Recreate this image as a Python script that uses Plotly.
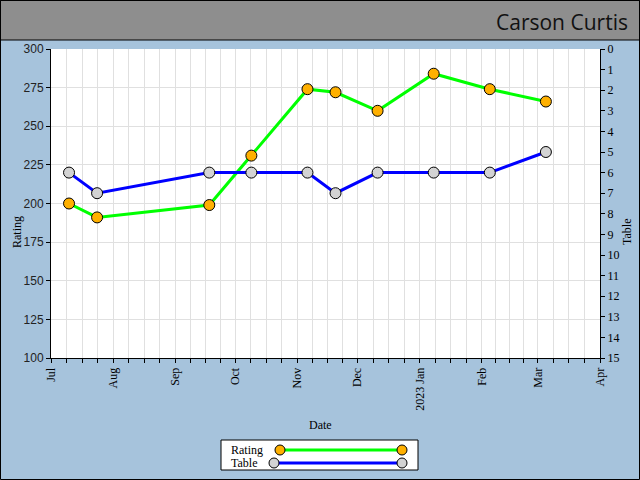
import pandas as pd
import plotly.graph_objects as go

# Data
dates = ["2022-07-10", "2022-07-24", "2022-09-18", "2022-10-09", "2022-11-06",
         "2022-11-20", "2022-12-11", "2023-01-08", "2023-02-05", "2023-03-05"]
rating = [200, 191, 199, 231, 274, 272, 260, 284, 274, 266]
table = [6, 7, 6, 6, 6, 7, 6, 6, 6, 5]

month_ticks = ["2022-07-01", "2022-08-01", "2022-09-01", "2022-10-01", "2022-11-01",
               "2022-12-01", "2023-01-01", "2023-02-01", "2023-03-01", "2023-04-01"]
month_labels = ["Jul", "Aug", "Sep", "Oct", "Nov", "Dec", "2023 Jan", "Feb", "Mar", "Apr"]

# Colours
BG = "#a6c3dc"
GREEN = "#00ff00"
BLUE = "#0000ff"
ORANGE = "#ffb000"
GREY_MARK = "#d3d3d3"
GRID = "#e0e0e0"
SERIF = "Liberation Serif"
SANS = "Liberation Sans"

# Layout geometry (pixels)
W, H = 640, 480
L, R, T, B = 51, 40, 49, 122
PW, PH = W - L - R, H - T - B


def px(x):
    return (x - L) / PW


def py(y):
    return (H - B - y) / PH


# minor ticks: quarter points of each month
minor_vals = []
starts = pd.to_datetime(month_ticks)
for a, b in zip(starts[:-1], starts[1:]):
    for f in (0.25, 0.5, 0.75):
        minor_vals.append(a + (b - a) * f)

fig = go.Figure()
fig.add_trace(go.Scatter(
    x=dates, y=rating, name="Rating", mode="lines+markers",
    line=dict(color=GREEN, width=3),
    marker=dict(color=ORANGE, size=11, line=dict(color="black", width=1)),
    yaxis="y"))
fig.add_trace(go.Scatter(
    x=dates, y=table, name="Table", mode="lines+markers",
    line=dict(color=BLUE, width=3),
    marker=dict(color=GREY_MARK, size=11, line=dict(color="black", width=1)),
    yaxis="y2"))

fig.update_layout(
    width=W, height=H,
    margin=dict(l=L, r=R, t=T, b=B),
    paper_bgcolor=BG, plot_bgcolor="white",
    showlegend=False,
    font=dict(family=SERIF, size=12, color="black"),
    xaxis=dict(
        type="date", range=["2022-07-01", "2023-04-01"],
        tickmode="array", tickvals=month_ticks, ticktext=month_labels,
        tickangle=-90, ticks="outside", ticklen=4, tickcolor="black",
        showline=True, linecolor="black", linewidth=1,
        showgrid=True, gridcolor=GRID, zeroline=False,
        tickfont=dict(family=SERIF, size=12),
        minor=dict(tickmode="array", tickvals=minor_vals, ticks="outside",
                   ticklen=4, tickcolor="black", showgrid=True, gridcolor=GRID),
    ),
    yaxis=dict(
        range=[100, 300], dtick=25, ticks="outside", ticklen=4, tickcolor="black",
        showline=True, linecolor="black", linewidth=1,
        showgrid=True, gridcolor=GRID, zeroline=False,
        tickfont=dict(family=SANS, size=12, color="#222222"),
    ),
    yaxis2=dict(
        range=[15, 0], dtick=1, overlaying="y", side="right",
        ticks="outside", ticklen=4, tickcolor="black",
        showline=True, linecolor="black", linewidth=1,
        showgrid=False, zeroline=False,
        tickfont=dict(family=SERIF, size=12),
    ),
)

shapes = [
    # title band
    dict(type="rect", xref="paper", yref="paper", x0=px(0), x1=px(W), y0=py(40), y1=py(0),
         fillcolor="#8e8e8e", line=dict(color="black", width=1), layer="below"),
    # outer frame
    dict(type="rect", xref="paper", yref="paper", x0=px(0.5), x1=px(W - 0.5), y0=py(H - 0.5), y1=py(0.5),
         fillcolor="rgba(0,0,0,0)", line=dict(color="black", width=1)),
    # legend box
    dict(type="rect", xref="paper", yref="paper", x0=px(221), x1=px(418), y0=py(470), y1=py(440),
         fillcolor="white", line=dict(color="black", width=1)),
    dict(type="line", xref="paper", yref="paper", x0=px(280), x1=px(402), y0=py(450), y1=py(450),
         line=dict(color=GREEN, width=3)),
    dict(type="line", xref="paper", yref="paper", x0=px(274), x1=px(402), y0=py(463), y1=py(463),
         line=dict(color=BLUE, width=3)),
]
for cx, cy, col in [(280, 450, ORANGE), (402, 450, ORANGE), (274, 463, GREY_MARK), (402, 463, GREY_MARK)]:
    shapes.append(dict(type="circle", xref="paper", yref="paper",
                       x0=px(cx - 5), x1=px(cx + 5), y0=py(cy + 5), y1=py(cy - 5),
                       fillcolor=col, line=dict(color="black", width=1)))
fig.update_layout(shapes=shapes)

annotations = [
    dict(text="Carson Curtis", x=px(630), y=py(22), xanchor="right", yanchor="middle",
         font=dict(family="Open Sans", size=21, color="#111111")),
    dict(text="Date", x=px(320), y=py(425), xanchor="center", yanchor="middle"),
    dict(text="Rating", x=px(17), y=py(232), textangle=-90, xanchor="center", yanchor="middle"),
    dict(text="Table", x=px(627), y=py(232), textangle=-90, xanchor="center", yanchor="middle"),
    dict(text="Rating", x=px(229), y=py(450), xanchor="left", yanchor="middle"),
    dict(text="Table", x=px(229), y=py(463), xanchor="left", yanchor="middle"),
]
for a in annotations:
    a.update(xref="paper", yref="paper", showarrow=False)
fig.update_layout(annotations=annotations)

# drop the default page margin so the figure sits at the window's top-left
fig.write_html("out.html", config={"displayModeBar": False},
               post_script="document.body.style.margin='0';")
